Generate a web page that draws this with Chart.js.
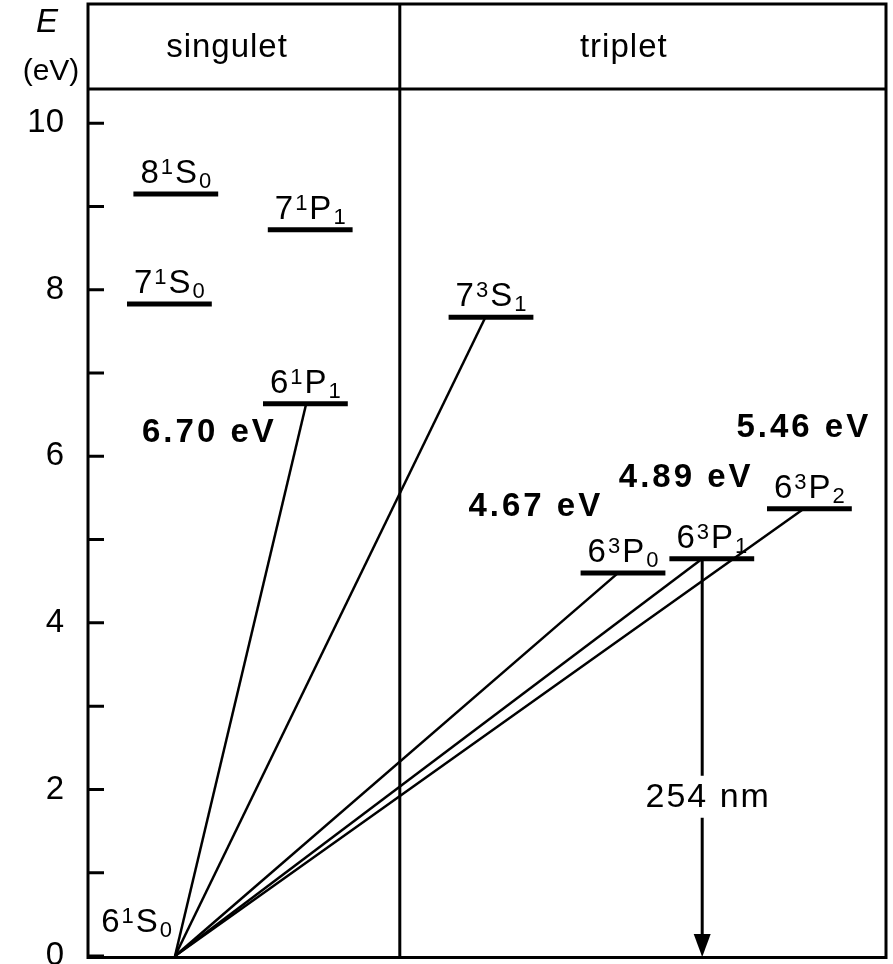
<!DOCTYPE html>
<html>
<head>
<meta charset="utf-8">
<script src="https://cdn.jsdelivr.net/npm/chart.js@4"></script>
<style>
  html, body { margin: 0; padding: 0; background: #fff; }
  canvas { display: block; }
</style>
</head>
<body>
<canvas id="levelChart" width="893" height="964"></canvas>
<script>
// Hg energy levels (eV)
const levelNames = [
  ['8', '1', 'S', '0'], ['7', '1', 'P', '1'], ['7', '1', 'S', '0'], ['6', '1', 'P', '1'],
  ['7', '3', 'S', '1'], ['6', '3', 'P', '0'], ['6', '3', 'P', '1'], ['6', '3', 'P', '2']
];
const levelEnergy = [9.15, 8.72, 7.83, 6.63, 7.67, 4.60, 4.77, 5.37];
const levelX = [11.1, 27.9, 10.3, 27.3, 50.5, 67.0, 78.1, 90.3];

const groundName = ['6', '1', 'S', '0'];
const groundX = 11;

// transitions from the ground state: target level + where the line meets it
const transLevel = [3, 4, 5, 6, 7];
const transX = [27.4, 49.8, 66.4, 76.9, 89.6];

const energyLabels = ['6.70 eV', '4.67 eV', '4.89 eV', '5.46 eV'];
const columnNames = ['singulet', 'triplet'];
const columnSplit = 39.1;
const arrowLevel = 6;
const arrowLabel = '254 nm';

const yTicks = [0, 2, 4, 6, 8, 10];
const yMax = 10.41;

// annotation placement (data units)
const energyLabelPos = [[15.3, 6.28], [56.1, 5.39], [74.9, 5.74], [89.6, 6.34]];
const columnLabelX = [17.5, 67.1];
const halfBar = 5.3;

const FONT = '"Liberation Sans", Arial, Helvetica, sans-serif';

Chart.defaults.font.family = FONT;
Chart.defaults.color = '#000';

function lineSet(points, width) {
  return {
    data: points,
    showLine: true,
    borderColor: '#000',
    borderWidth: width,
    borderCapStyle: 'butt',
    pointRadius: 0,
    pointHoverRadius: 0,
    tension: 0,
    clip: false
  };
}

const datasets = [];
levelEnergy.forEach((e, i) => {
  datasets.push(lineSet([{ x: levelX[i] - halfBar, y: e }, { x: levelX[i] + halfBar, y: e }], 5));
});
transLevel.forEach((li, k) => {
  datasets.push(lineSet([{ x: groundX, y: 0 }, { x: transX[k], y: levelEnergy[li] }], 2.5));
});
const arrowX = transX[transLevel.indexOf(arrowLevel)];
datasets.push(lineSet([{ x: arrowX, y: levelEnergy[arrowLevel] }, { x: arrowX, y: 0.15 }], 3));

function drawTerm(ctx, parts, x, base, align) {
  const big = '33px ' + FONT;
  const small = '22px ' + FONT;
  const gap = 2;
  ctx.font = big;
  const w0 = ctx.measureText(parts[0]).width;
  const w2 = ctx.measureText(parts[2]).width;
  ctx.font = small;
  const w1 = ctx.measureText(parts[1]).width;
  const w3 = ctx.measureText(parts[3]).width;
  const total = w0 + w1 + w2 + w3 + gap * 3;
  let cx = align === 'right' ? x - total : x - total / 2;
  ctx.textAlign = 'left';
  ctx.textBaseline = 'alphabetic';
  ctx.font = big;
  ctx.fillText(parts[0], cx, base);
  cx += w0 + gap;
  ctx.font = small;
  ctx.fillText(parts[1], cx, base - 9);
  cx += w1 + gap;
  ctx.font = big;
  ctx.fillText(parts[2], cx, base);
  cx += w2 + gap;
  ctx.font = small;
  ctx.fillText(parts[3], cx, base + 5);
}

const diagramPlugin = {
  id: 'diagram',
  beforeDatasetsDraw(chart) {
    const { ctx, chartArea: a, scales: { x, y } } = chart;
    ctx.save();
    ctx.strokeStyle = '#000';
    ctx.lineWidth = 3;
    ctx.beginPath();
    // frame
    ctx.moveTo(a.left + 1, 4);
    ctx.lineTo(a.right - 1, 4);
    ctx.lineTo(a.right - 1, a.bottom + 1.5);
    ctx.lineTo(a.left + 1, a.bottom + 1.5);
    ctx.closePath();
    // header rule and column split
    ctx.moveTo(a.left, a.top);
    ctx.lineTo(a.right, a.top);
    const sx = x.getPixelForValue(columnSplit);
    ctx.moveTo(sx, 4);
    ctx.lineTo(sx, a.bottom + 1.5);
    // inward ticks
    y.ticks.forEach(t => {
      const py = y.getPixelForValue(t.value);
      ctx.moveTo(a.left, py);
      ctx.lineTo(a.left + 17, py);
    });
    ctx.stroke();

    // header text
    ctx.fillStyle = '#000';
    ctx.letterSpacing = '1px';
    ctx.font = '33px ' + FONT;
    ctx.textAlign = 'center';
    ctx.textBaseline = 'alphabetic';
    columnNames.forEach((n, i) => {
      ctx.fillText(n, x.getPixelForValue(columnLabelX[i]), a.top - 32);
    });
    ctx.letterSpacing = '0px';
    ctx.font = 'italic 33px ' + FONT;
    ctx.fillText('E', a.left - 40, 32);
    ctx.font = '30px ' + FONT;
    ctx.fillText('(eV)', a.left - 36, 80);
    ctx.restore();
  },
  afterDatasetsDraw(chart) {
    const { ctx, chartArea: a, scales: { x, y } } = chart;
    ctx.save();
    ctx.fillStyle = '#000';

    // level terms
    levelNames.forEach((p, i) => {
      drawTerm(ctx, p, x.getPixelForValue(levelX[i]), y.getPixelForValue(levelEnergy[i]) - 11, 'center');
    });
    drawTerm(ctx, groundName, x.getPixelForValue(groundX) - 3, a.bottom - 24, 'right');

    // transition energies
    ctx.font = 'bold 33px ' + FONT;
    ctx.letterSpacing = '3px';
    ctx.textAlign = 'center';
    ctx.textBaseline = 'middle';
    energyLabels.forEach((t, i) => {
      ctx.fillText(t, x.getPixelForValue(energyLabelPos[i][0]), y.getPixelForValue(energyLabelPos[i][1]));
    });

    // arrow head
    const ax = x.getPixelForValue(arrowX);
    const ay = y.getPixelForValue(0) + 1;
    ctx.beginPath();
    ctx.moveTo(ax, ay);
    ctx.lineTo(ax - 8.5, ay - 23);
    ctx.lineTo(ax + 8.5, ay - 23);
    ctx.closePath();
    ctx.fill();

    // 254 nm label over a white gap
    const ly = y.getPixelForValue(1.9);
    ctx.font = '34px ' + FONT;
    ctx.letterSpacing = '2px';
    const tw = ctx.measureText(arrowLabel).width;
    ctx.fillStyle = '#fff';
    ctx.fillRect(ax - 4 - tw / 2, ly - 22, tw + 8, 42);
    ctx.fillStyle = '#000';
    ctx.textBaseline = 'middle';
    ctx.fillText(arrowLabel, ax + 6, ly);
    ctx.restore();
  }
};

new Chart(document.getElementById('levelChart'), {
  type: 'scatter',
  data: { datasets },
  options: {
    responsive: false,
    animation: false,
    devicePixelRatio: 1,
    layout: { padding: { top: 89, right: 6, bottom: 8, left: 0 } },
    plugins: { legend: { display: false }, tooltip: { enabled: false } },
    events: [],
    scales: {
      x: { type: 'linear', min: 0, max: 100, display: false },
      y: {
        type: 'linear',
        min: 0,
        max: yMax,
        grid: { display: false, drawTicks: false },
        border: { display: false },
        afterFit(scale) {
          scale.width = 87;
          // labels may overhang the plot edges like in the original
          scale.paddingTop = 0;
          scale.paddingBottom = 0;
        },
        afterBuildTicks(scale) {
          // every 1 eV gets a tick, only even values are labelled
          scale.ticks = [];
          for (let v = 0; v <= 10; v++) scale.ticks.push({ value: v });
        },
        ticks: {
          padding: 23,
          font: { size: 33 },
          color: '#000',
          callback: v => (yTicks.includes(v) ? String(v) : '')
        }
      }
    }
  },
  plugins: [diagramPlugin]
});
</script>
</body>
</html>
